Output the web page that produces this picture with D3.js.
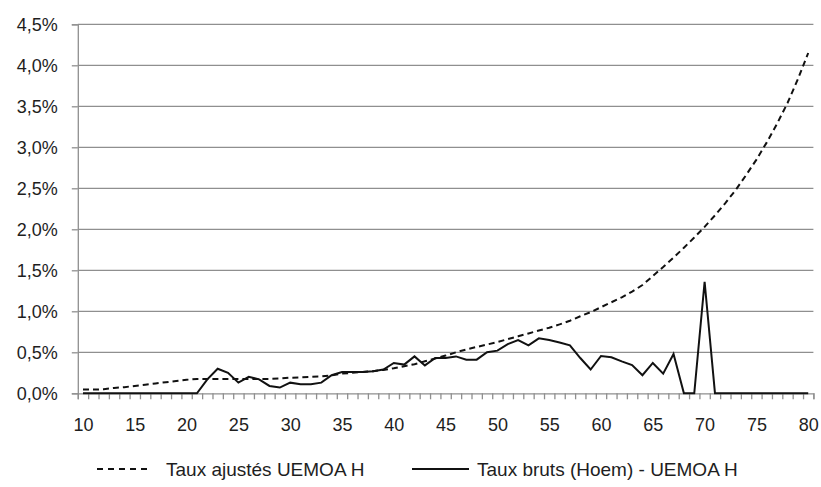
<!DOCTYPE html>
<html>
<head>
<meta charset="utf-8">
<script src="https://cdn.jsdelivr.net/npm/d3@7"></script>
<style>
html,body{margin:0;padding:0;background:#fff;}
svg{display:block;}
text{font-family:"Liberation Sans",Arial,sans-serif;fill:#1e1e1e;}
</style>
</head>
<body>
<svg id="chart" width="821" height="487"></svg>
<script>
const ages = d3.range(10, 81);
const xTickLabels = [10,15,20,25,30,35,40,45,50,55,60,65,70,75,80];
const yTickValues = [0,0.5,1,1.5,2,2.5,3,3.5,4,4.5];
const seriesNames = ["Taux ajustés UEMOA H", "Taux bruts (Hoem) - UEMOA H"];
// Taux ajustés (%)
const adjusted = [
  0.045,0.045,0.05,0.065,0.075,0.09,0.105,0.12,0.135,0.15,
  0.165,0.175,0.175,0.175,0.175,0.175,0.175,0.175,0.175,0.18,
  0.19,0.195,0.2,0.205,0.22,0.24,0.25,0.26,0.27,0.285,
  0.305,0.33,0.355,0.39,0.425,0.46,0.50,0.535,0.565,0.595,
  0.625,0.66,0.695,0.73,0.765,0.80,0.84,0.885,0.94,0.99,
  1.05,1.11,1.17,1.24,1.32,1.43,1.54,1.655,1.775,1.90,
  2.03,2.17,2.32,2.48,2.66,2.85,3.06,3.29,3.54,3.83,
  4.15
];
// Taux bruts (%)
const raw = [
  0,0,0,0,0,0,0,0,0,0,
  0,0,0.17,0.30,0.25,0.13,0.20,0.17,0.09,0.07,
  0.13,0.11,0.11,0.13,0.22,0.26,0.26,0.26,0.27,0.29,
  0.37,0.35,0.45,0.34,0.43,0.43,0.45,0.41,0.41,0.50,
  0.52,0.60,0.65,0.585,0.67,0.65,0.62,0.585,0.43,0.29,
  0.455,0.44,0.39,0.345,0.22,0.37,0.24,0.48,0,0,
  1.36,0,0,0,0,0,0,0,0,0,
  0
];

const L = 77.8, R = 813.4, T = 24.3, B = 393.3;
const svg = d3.select("#chart");
svg.append("rect").attr("width",821).attr("height",487).attr("fill","#fff");

const x = d3.scaleLinear().domain([9.5, 80.5]).range([L, R]);
const y = d3.scaleLinear().domain([0, 4.5]).range([B, T]);
const gridColor = "#8f8f8f";
const fs = 18;

// gridlines
svg.append("g").selectAll("line").data(yTickValues.filter(v=>v>0)).join("line")
  .attr("x1", L).attr("x2", R).attr("y1", d=>y(d)).attr("y2", d=>y(d))
  .attr("stroke", gridColor).attr("stroke-width", 1.3);

// y axis
const yAxis = d3.axisLeft(y).tickValues(yTickValues).tickSize(6).tickPadding(14)
  .tickFormat(d => d3.format(".1f")(d).replace(".", ",") + "%");
const gy = svg.append("g").attr("transform", `translate(${L},0)`).call(yAxis);
gy.select(".domain").attr("stroke", gridColor).attr("stroke-width", 1.3);
gy.selectAll(".tick line").attr("stroke", gridColor).attr("stroke-width", 1.3);
gy.selectAll(".tick text").attr("font-size", fs).attr("font-family", "Liberation Sans, Arial, sans-serif").attr("fill", "#1e1e1e");

// x axis minor ticks at category boundaries
const xAxisTicks = d3.axisBottom(x).tickValues(d3.range(9.5, 80.6, 1)).tickSize(6).tickFormat("");
const gx = svg.append("g").attr("transform", `translate(0,${B})`).call(xAxisTicks);
gx.select(".domain").attr("stroke", gridColor).attr("stroke-width", 1.3);
gx.selectAll(".tick line").attr("stroke", gridColor).attr("stroke-width", 1.3);

// x labels
const xAxisLabels = d3.axisBottom(x).tickValues(xTickLabels).tickSize(0).tickPadding(25).tickFormat(d3.format("d"));
const gxl = svg.append("g").attr("transform", `translate(0,${B})`).call(xAxisLabels);
gxl.select(".domain").remove();
gxl.selectAll(".tick text").attr("font-size", fs).attr("font-family", "Liberation Sans, Arial, sans-serif").attr("fill", "#1e1e1e");

// lines
const line = d3.line().x((d,i)=>x(ages[i])).y(d=>y(d));
svg.append("path").datum(raw).attr("d", line)
  .attr("fill","none").attr("stroke","#111").attr("stroke-width",2).attr("stroke-linejoin","miter");
svg.append("path").datum(adjusted).attr("d", line)
  .attr("fill","none").attr("stroke","#111").attr("stroke-width",2).attr("stroke-dasharray","6,4");

// legend
const lg = svg.append("g");
const ly = 469;
const lfs = 19;
lg.append("line").attr("x1",97).attr("x2",152).attr("y1",ly).attr("y2",ly)
  .attr("stroke","#111").attr("stroke-width",2).attr("stroke-dasharray","6,5");
lg.append("text").attr("x",166).attr("y",ly).attr("dy","0.35em").attr("font-size",lfs).text(seriesNames[0]);
lg.append("line").attr("x1",412).attr("x2",469).attr("y1",ly).attr("y2",ly)
  .attr("stroke","#111").attr("stroke-width",2);
lg.append("text").attr("x",477).attr("y",ly).attr("dy","0.35em").attr("font-size",lfs).text(seriesNames[1]);
</script>
</body>
</html>
